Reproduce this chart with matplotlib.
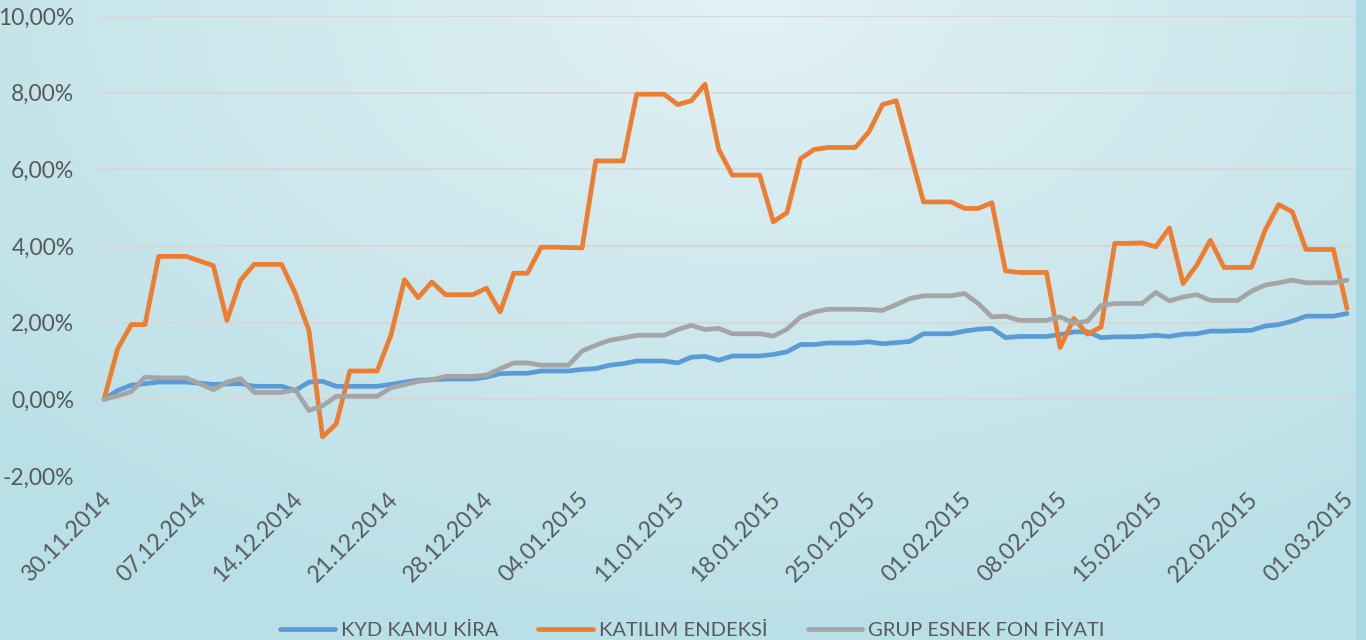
import numpy as np
import pandas as pd
import matplotlib
matplotlib.use("Agg")
import matplotlib.pyplot as plt
import matplotlib.transforms as mtransforms
from matplotlib.ticker import FuncFormatter, FixedLocator

# ---------------- data ----------------
dates = pd.date_range("2014-11-30", "2015-03-01", freq="D")
tick_labels = ["30.11.2014", "07.12.2014", "14.12.2014", "21.12.2014", "28.12.2014",
               "04.01.2015", "11.01.2015", "18.01.2015", "25.01.2015", "01.02.2015",
               "08.02.2015", "15.02.2015", "22.02.2015", "01.03.2015"]
series_names = ["KYD KAMU KİRA", "KATILIM ENDEKSİ", "GRUP ESNEK FON FİYATI"]

kyd_kamu_kira = [
    0.00, 0.23, 0.37, 0.41, 0.45, 0.45, 0.45, 0.42, 0.39, 0.40,
    0.41, 0.34, 0.34, 0.34, 0.23, 0.45, 0.47, 0.34, 0.34, 0.34,
    0.34, 0.39, 0.45, 0.50, 0.51, 0.53, 0.53, 0.53, 0.58, 0.67,
    0.68, 0.68, 0.74, 0.74, 0.74, 0.78, 0.80, 0.89, 0.93, 1.00,
    1.00, 1.00, 0.95, 1.10, 1.12, 1.02, 1.13, 1.13, 1.13, 1.17,
    1.24, 1.43, 1.43, 1.47, 1.47, 1.47, 1.50, 1.45, 1.48, 1.51,
    1.71, 1.71, 1.71, 1.78, 1.83, 1.85, 1.61, 1.64, 1.64, 1.64,
    1.69, 1.76, 1.76, 1.61, 1.63, 1.63, 1.64, 1.67, 1.64, 1.70,
    1.71, 1.78, 1.78, 1.79, 1.80, 1.91, 1.95, 2.04, 2.17, 2.17,
    2.17, 2.24]

katilim_endeksi = [
    0.00, 1.32, 1.95, 1.95, 3.73, 3.73, 3.73, 3.61, 3.49, 2.06,
    3.11, 3.52, 3.52, 3.52, 2.77, 1.80, -0.98, -0.64, 0.74, 0.74,
    0.74, 1.67, 3.12, 2.65, 3.06, 2.73, 2.73, 2.73, 2.90, 2.28,
    3.29, 3.29, 3.97, 3.97, 3.96, 3.95, 6.22, 6.22, 6.22, 7.96,
    7.96, 7.96, 7.69, 7.79, 8.22, 6.52, 5.85, 5.85, 5.85, 4.63,
    4.87, 6.28, 6.52, 6.57, 6.57, 6.57, 6.98, 7.69, 7.79, 6.46,
    5.15, 5.15, 5.15, 4.98, 4.98, 5.13, 3.35, 3.31, 3.31, 3.31,
    1.35, 2.11, 1.70, 1.89, 4.07, 4.07, 4.08, 3.98, 4.47, 3.02,
    3.50, 4.15, 3.44, 3.44, 3.44, 4.41, 5.08, 4.89, 3.91, 3.91,
    3.91, 2.37]

grup_esnek_fon = [
    0.00, 0.09, 0.20, 0.58, 0.56, 0.56, 0.56, 0.41, 0.25, 0.45,
    0.54, 0.18, 0.18, 0.18, 0.25, -0.29, -0.17, 0.08, 0.08, 0.08,
    0.08, 0.30, 0.38, 0.47, 0.51, 0.60, 0.60, 0.60, 0.63, 0.80,
    0.95, 0.95, 0.89, 0.89, 0.89, 1.26, 1.41, 1.54, 1.60, 1.67,
    1.67, 1.67, 1.82, 1.93, 1.82, 1.85, 1.71, 1.71, 1.71, 1.65,
    1.83, 2.15, 2.28, 2.35, 2.35, 2.35, 2.34, 2.32, 2.47, 2.63,
    2.70, 2.70, 2.70, 2.76, 2.50, 2.15, 2.17, 2.06, 2.06, 2.06,
    2.15, 1.99, 2.04, 2.45, 2.50, 2.50, 2.50, 2.79, 2.57, 2.67,
    2.73, 2.58, 2.58, 2.58, 2.82, 2.98, 3.04, 3.11, 3.04, 3.04,
    3.04, 3.11]

y_ticks = [-2, 0, 2, 4, 6, 8, 10]

# ---------------- styling ----------------
colors = ["#5b9bd5", "#ed7d31", "#a5a5a5"]
text_color = "#595959"
plt.rcParams["font.family"] = ["Lato", "DejaVu Sans"]

W, H = 1366, 640
fig = plt.figure(figsize=(W / 100, H / 100), dpi=100)

# background gradient
bg = fig.add_axes([0, 0, 1, 1], zorder=-10)
gx, gy = np.meshgrid(np.linspace(0, 1, 400), np.linspace(0, 1, 200))
d = np.sqrt(((gx - 0.55) / 0.75) ** 2 + ((gy - 0.0) / 1.0) ** 2)
d = np.clip(d, 0, 1)[..., None]
c_in = np.array([226, 241, 244]) / 255.0
c_out = np.array([186, 224, 231]) / 255.0
img = c_in * (1 - d) + c_out * d
bg.imshow(img, extent=[0, 1, 0, 1], aspect="auto", origin="upper")
bg.add_patch(plt.Rectangle((1356 / W, 0), 10 / W, 1, color="#a9d8e0", lw=0))
bg.set_xlim(0, 1)
bg.set_ylim(0, 1)
bg.axis("off")

left, right = 98 / W, 1353 / W
bottom, top = (H - 476) / H, (H - 16) / H
ax = fig.add_axes([left, bottom, right - left, top - bottom])
ax.patch.set_alpha(0)

x = np.arange(len(dates))
for vals, name, col in zip([kyd_kamu_kira, katilim_endeksi, grup_esnek_fon], series_names, colors):
    ax.plot(x, vals, color=col, lw=3.4, label=name, solid_joinstyle="round", solid_capstyle="round")

ax.set_xlim(-0.44, len(dates) - 1 + 0.44)
ax.set_ylim(-2, 10)
ax.yaxis.set_major_locator(FixedLocator(y_ticks))
ax.yaxis.set_major_formatter(FuncFormatter(lambda v, p: f"{v:.2f}%".replace(".", ",")))
ax.grid(axis="y", color="#d9d6d6", lw=1.3)
ax.set_axisbelow(True)
tick_pos = [i for i in range(0, len(dates), 7)]
ax.set_xticks(tick_pos)
ax.set_xticklabels(tick_labels, rotation=45, ha="right", rotation_mode="anchor")
for s in ax.spines.values():
    s.set_visible(False)
ax.tick_params(axis="both", length=0, labelsize=16.5, colors=text_color)
ax.tick_params(axis="y", pad=17)
ax.tick_params(axis="x", pad=9)
offset = mtransforms.ScaledTranslation(-4 / 100, 0, fig.dpi_scale_trans)
for lbl in ax.get_xticklabels():
    lbl.set_transform(lbl.get_transform() + offset)

fig.legend(loc="center", bbox_to_anchor=(0.507, (H - 630) / H), ncol=3, frameon=False,
           fontsize=14.5, labelcolor=text_color, handlelength=2.7, handletextpad=0.3,
           columnspacing=2.0)

fig.savefig("out.png", dpi=100)
